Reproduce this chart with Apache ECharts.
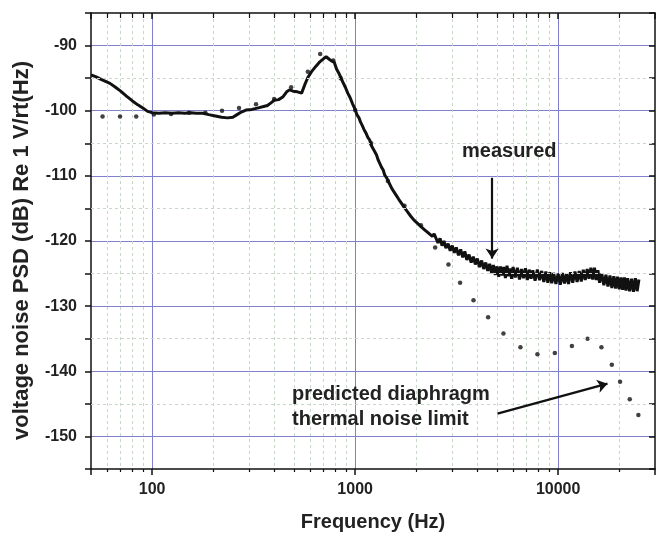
<!DOCTYPE html>
<html><head><meta charset="utf-8">
<script src="https://cdn.jsdelivr.net/npm/echarts@6.0.0/dist/echarts.min.js"></script>
<style>html,body{margin:0;padding:0;background:#fff}#c{width:659px;height:537px}</style>
</head><body><div id="c"></div>
<script>
// ---- data ----
const xTickLabels = [100, 1000, 10000];
const yTickLabels = [-150, -140, -130, -120, -110, -100, -90];
const yMinorGrid = [-145, -135, -125, -115, -105, -95];

const measFreq = [50,53,56,59,62,66,70,75,80,85,90,95,100,108,116,125,135,145,155,165,178,190,205,220,235,250,262,275,290,310,330,350,370,385,400,420,440,460,475,495,520,545,565,585,610,640,670,700,720,745,770,790,810,830,850,870,895,920,945,970,1000,1020,1045,1065,1085,1110,1130,1155,1180,1200,1225,1250,1275,1300,1325,1350,1375,1400,1430,1460,1490,1520,1550,1580,1610,1640,1670,1700,1730,1760,1790,1820,1850,1880,1910,1950,1990,2030,2070,2110,2150,2200,2250,2300,2350,2400,2450,2500,2560,2620,2680,2740,2800,2870,2940,3010,3080,3150,3230,3310,3390,3470,3550,3640,3730,3820,3910,4000,4100,4200,4300,4400,4500,4600,4700,4800,4900,5000,5100,5200,5300,5400,5500,5600,5700,5800,5900,6000,6150,6300,6450,6600,6750,6900,7050,7200,7350,7500,7700,7900,8100,8300,8500,8700,8900,9100,9300,9500,9750,10000,10250,10500,10750,11000,11250,11500,11800,12100,12400,12700,13000,13300,13600,13900,14200,14500,14800,15100,15400,15700,16000,16400,16800,17200,17600,18000,18400,18800,19200,19600,20000,20400,20800,21200,21600,22000,22500,23000,23500,24000,24500,25000];
const measDb = [-94.5,-94.8,-95.2,-95.5,-95.8,-96.4,-97.0,-97.8,-98.5,-99.1,-99.6,-100.1,-100.3,-100.4,-100.3,-100.4,-100.3,-100.4,-100.3,-100.4,-100.4,-100.6,-100.8,-101.0,-101.1,-101.0,-100.6,-100.2,-99.9,-99.8,-99.6,-99.4,-99.2,-98.8,-98.4,-98.3,-97.9,-97.1,-96.8,-97.0,-97.1,-97.3,-96.0,-94.9,-94.0,-93.2,-92.5,-92.0,-91.7,-92.1,-92.4,-92.6,-93.6,-94.2,-94.9,-95.6,-96.4,-97.3,-98.0,-98.9,-99.8,-100.6,-101.1,-101.8,-102.3,-103.0,-103.4,-104.1,-104.5,-105.3,-105.5,-106.3,-106.8,-107.6,-107.8,-108.7,-109.1,-109.9,-110.3,-110.9,-111.2,-112.0,-112.1,-112.8,-112.9,-113.6,-113.5,-114.3,-114.2,-115.0,-114.8,-115.6,-115.4,-116.2,-115.9,-116.8,-116.5,-117.3,-117.0,-117.8,-117.5,-118.3,-118.0,-118.8,-118.5,-119.3,-118.9,-119.2,-120.3,-119.6,-120.7,-120.0,-121.1,-120.4,-121.5,-120.7,-121.8,-121.0,-122.2,-121.3,-122.5,-121.6,-122.9,-122.1,-123.3,-122.4,-123.6,-122.7,-124.0,-123.0,-124.3,-123.3,-124.6,-123.5,-124.9,-123.7,-125.2,-123.9,-125.5,-123.9,-125.3,-124.0,-125.7,-123.8,-125.4,-124.2,-125.8,-124.0,-125.6,-124.1,-125.9,-124.3,-125.7,-124.2,-126.0,-124.4,-125.8,-124.5,-126.1,-124.4,-126.0,-124.6,-126.3,-124.7,-126.4,-124.8,-126.5,-124.9,-126.6,-125.0,-126.7,-124.9,-126.5,-125.0,-126.6,-124.8,-126.4,-124.7,-126.3,-124.6,-126.2,-124.4,-126.0,-124.3,-125.8,-124.1,-125.9,-124.1,-126.0,-124.5,-126.4,-125.0,-126.8,-125.2,-127.0,-125.3,-127.2,-125.4,-127.3,-125.5,-127.4,-125.6,-127.5,-125.6,-127.6,-125.7,-127.7,-125.8,-127.8,-125.7,-127.7,-125.9];

const predFreq = [57,69.5,83.5,102,124,152,183,221,268,325,399,484,585,673,781,849,1000,1200,1450,1750,2110,2478,2882,3289,3829,4519,5377,6520,7907,9630,11690,13960,16340,18380,20190,22530,24850];
const predDb = [-100.9,-100.9,-100.9,-100.6,-100.5,-100.3,-100.3,-100.0,-99.6,-99.0,-98.2,-96.4,-94.0,-91.3,-92.3,-95.0,-99.9,-105.0,-110.8,-114.6,-117.6,-121.0,-123.6,-126.4,-129.1,-131.7,-134.2,-136.3,-137.4,-137.2,-136.1,-135.0,-136.3,-139.0,-141.6,-144.3,-146.7];

const arrowMeasured = [[4732, -110.3], [4732, -122.7]];
const arrowPredicted = [[5024, -146.5], [17500, -141.9]];

// ---- chart ----
const FONT = '"Liberation Sans", Arial, sans-serif';
const MAJOR = '#7f7fcc';
const MINOR = '#c8d8c8';
const AX = '#111';

const chart = echarts.init(document.getElementById('c'), null, {renderer: 'canvas'});
const xCommon = {type: 'log', logBase: 10, min: 50, max: 30000};
chart.setOption({
  animation: false,
  backgroundColor: '#fff',
  grid: {left: 91, right: 4, top: 13, bottom: 67, containLabel: false},
  xAxis: [
    Object.assign({}, xCommon, {
      position: 'bottom',
      name: 'Frequency (Hz)', nameLocation: 'middle', nameGap: 43,
      nameTextStyle: {fontFamily: FONT, fontWeight: 'bold', fontSize: 20, color: '#222'},
      axisLine: {show: true, lineStyle: {color: AX, width: 1.5}},
      axisTick: {show: true, inside: false, length: 6, lineStyle: {color: AX, width: 1.5}},
      minorTick: {show: true, splitNumber: 9, length: 3, lineStyle: {color: AX, width: 1.2}},
      axisLabel: {show: true, margin: 13, fontFamily: FONT, fontWeight: 'bold', fontSize: 16, color: '#222',
        formatter: v => xTickLabels.includes(Math.round(v)) ? String(Math.round(v)) : ''},
      splitLine: {show: true, showMinLine: false, showMaxLine: false, lineStyle: {color: MAJOR, width: 1}},
      minorSplitLine: {show: true, lineStyle: {color: MINOR, width: 1, type: [3, 3]}}
    }),
    Object.assign({}, xCommon, {
      position: 'top',
      axisLine: {show: true, lineStyle: {color: AX, width: 1.5}},
      axisTick: {show: true, inside: true, length: 6, lineStyle: {color: AX, width: 1.5}},
      minorTick: {show: true, splitNumber: 9, length: 5, lineStyle: {color: AX, width: 1.2}},
      axisLabel: {show: false},
      splitLine: {show: false}
    })
  ],
  yAxis: [
    {
      type: 'value', min: -155, max: -85, interval: 5, position: 'left',
      name: 'voltage noise PSD (dB) Re 1 V/rt(Hz)', nameLocation: 'middle', nameGap: 58, nameRotate: 90,
      nameTextStyle: {fontFamily: FONT, fontWeight: 'bold', fontSize: 22, color: '#222', padding: [0, 19, 0, 0]},
      axisLine: {show: true, lineStyle: {color: AX, width: 1.5}},
      axisTick: {show: true, inside: false, length: 6, lineStyle: {color: AX, width: 1.5}},
      axisLabel: {show: true, margin: 14, fontFamily: FONT, fontWeight: 'bold', fontSize: 16, color: '#222',
        formatter: v => yTickLabels.includes(v) ? String(v) : ''},
      splitLine: {show: true, lineStyle: {color: ['rgba(0,0,0,0)', MAJOR], width: 1}}
    },
    {
      type: 'value', min: -155, max: -85, interval: 5, position: 'right',
      axisLine: {show: true, lineStyle: {color: AX, width: 1.5}},
      axisTick: {show: true, inside: true, length: 6, lineStyle: {color: AX, width: 1.5}},
      axisLabel: {show: false},
      splitLine: {show: false}
    }
  ],
  graphic: [
    {type: 'text', x: 462, y: 151, z: 10, style: {text: 'measured', fill: '#222', font: 'bold 20px "Liberation Sans", Arial', align: 'left', verticalAlign: 'middle'}},
    {type: 'text', x: 292, y: 394, z: 10, style: {text: 'predicted diaphragm', fill: '#222', font: 'bold 20px "Liberation Sans", Arial', align: 'left', verticalAlign: 'middle'}},
    {type: 'text', x: 292, y: 419, z: 10, style: {text: 'thermal noise limit', fill: '#222', font: 'bold 20px "Liberation Sans", Arial', align: 'left', verticalAlign: 'middle'}}
  ],
  series: [
    {
      type: 'line', data: [], z: 1, silent: true,
      markLine: {silent: true, symbol: ['none', 'none'], label: {show: false}, animation: false,
        lineStyle: {color: MINOR, type: [3, 3], width: 1},
        data: yMinorGrid.map(v => ({yAxis: v}))}
    },
    {
      name: 'measured', type: 'line', xAxisIndex: 0, yAxisIndex: 0, z: 3,
      showSymbol: false, symbol: 'none', smooth: false,
      lineStyle: {color: '#111', width: 3},
      data: measFreq.map((f, i) => [f, measDb[i]])
    },
    {
      name: 'predicted', type: 'scatter', xAxisIndex: 0, yAxisIndex: 0, z: 4,
      symbol: 'circle', symbolSize: 4.5,
      itemStyle: {color: '#111'},
      data: predFreq.map((f, i) => [f, predDb[i]])
    },
    {
      type: 'line', data: [], z: 6, silent: true,
      markLine: {silent: true, symbol: ['none', 'arrow'], symbolSize: 10, label: {show: false}, animation: false,
        lineStyle: {color: '#111', width: 2.2, type: 'solid'},
        data: [
          [{coord: arrowMeasured[0]}, {coord: arrowMeasured[1]}],
          [{coord: arrowPredicted[0]}, {coord: arrowPredicted[1]}]
        ]}
    }
  ]
});
</script></body></html>
